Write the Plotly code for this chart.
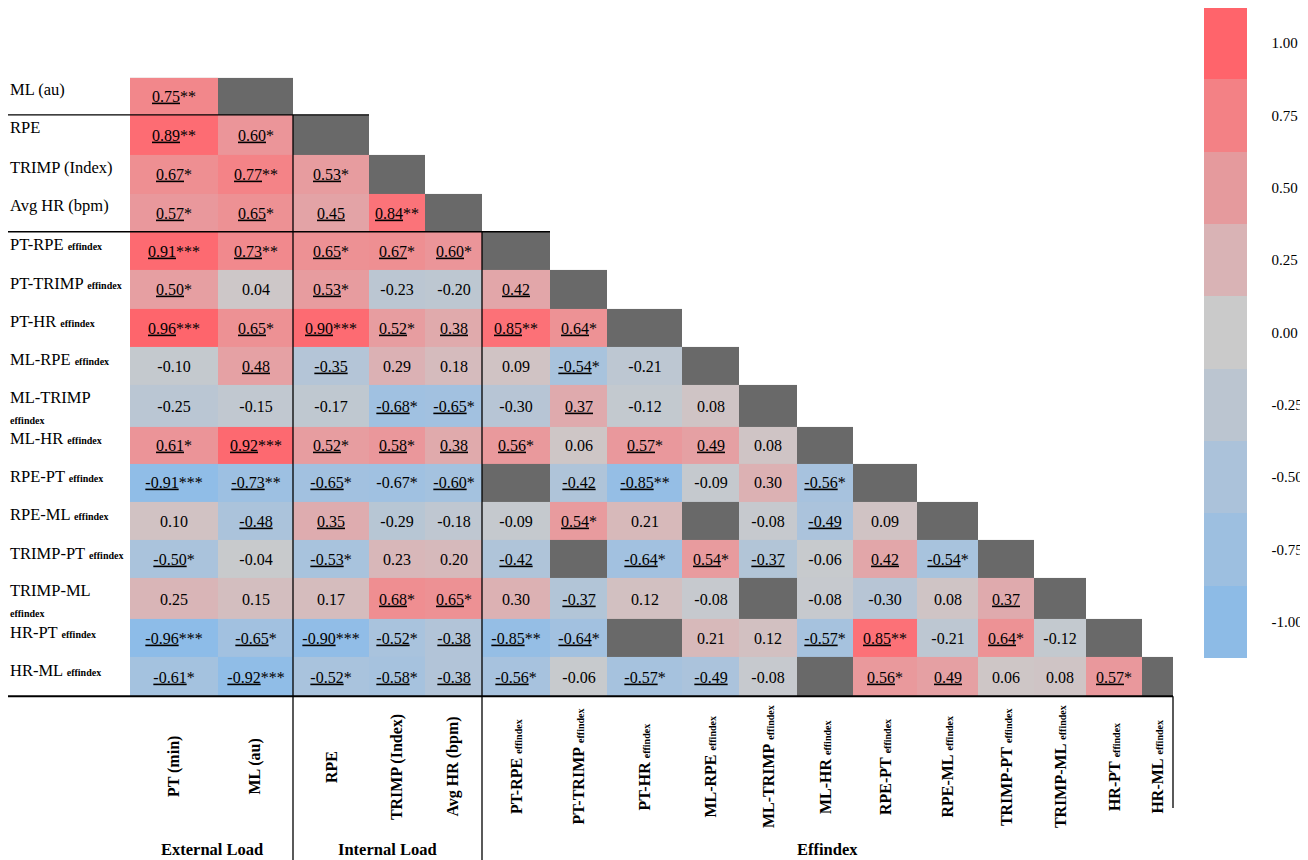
"""Correlation matrix of external load, internal load and effindex measures."""

import plotly.graph_objects as go

# Variables along the bottom axis; the rows are COLUMNS[1:]
COLUMNS = [
    'PT (min)', 'ML (au)', 'RPE', 'TRIMP (Index)', 'Avg HR (bpm)',
    'PT-RPE', 'PT-TRIMP', 'PT-HR', 'ML-RPE', 'ML-TRIMP', 'ML-HR',
    'RPE-PT', 'RPE-ML', 'TRIMP-PT', 'TRIMP-ML', 'HR-PT', 'HR-ML',
]
IS_EFFINDEX = [False] * 5 + [True] * 12
GROUPS = ['External Load', 'Internal Load', 'Effindex']
GROUP_SIZES = [2, 3, 12]

# Lower triangle, one list per row (None = not computed)
R_VALUES = [
    [0.75],
    [0.89, 0.60],
    [0.67, 0.77, 0.53],
    [0.57, 0.65, 0.45, 0.84],
    [0.91, 0.73, 0.65, 0.67, 0.60],
    [0.50, 0.04, 0.53, -0.23, -0.20, 0.42],
    [0.96, 0.65, 0.90, 0.52, 0.38, 0.85, 0.64],
    [-0.10, 0.48, -0.35, 0.29, 0.18, 0.09, -0.54, -0.21],
    [-0.25, -0.15, -0.17, -0.68, -0.65, -0.30, 0.37, -0.12, 0.08],
    [0.61, 0.92, 0.52, 0.58, 0.38, 0.56, 0.06, 0.57, 0.49, 0.08],
    [-0.91, -0.73, -0.65, -0.67, -0.60, None, -0.42, -0.85, -0.09, 0.30, -0.56],
    [0.10, -0.48, 0.35, -0.29, -0.18, -0.09, 0.54, 0.21, None, -0.08, -0.49, 0.09],
    [-0.50, -0.04, -0.53, 0.23, 0.20, -0.42, None, -0.64, 0.54, -0.37, -0.06,
     0.42, -0.54],
    [0.25, 0.15, 0.17, 0.68, 0.65, 0.30, -0.37, 0.12, -0.08, None, -0.08,
     -0.30, 0.08, 0.37],
    [-0.96, -0.65, -0.90, -0.52, -0.38, -0.85, -0.64, None, 0.21, 0.12, -0.57,
     0.85, -0.21, 0.64, -0.12],
    [-0.61, -0.92, -0.52, -0.58, -0.38, -0.56, -0.06, -0.57, -0.49, -0.08, None,
     0.56, 0.49, 0.06, 0.08, 0.57],
]

# Significance markers, same shape as R_VALUES
STARS = [
    ['**'],
    ['**', '*'],
    ['*', '**', '*'],
    ['*', '*', '', '**'],
    ['***', '**', '*', '*', '*'],
    ['*', '', '*', '', '', ''],
    ['***', '*', '***', '*', '', '**', '*'],
    ['', '', '', '', '', '', '*', ''],
    ['', '', '', '*', '*', '', '', '', ''],
    ['*', '***', '*', '*', '', '*', '', '*', '', ''],
    ['***', '**', '*', '*', '*', '', '', '**', '', '', '*'],
    ['', '', '', '', '', '', '*', '', '', '', '', ''],
    ['*', '', '*', '', '', '', '', '*', '*', '', '', '', '*'],
    ['', '', '', '*', '*', '', '', '', '', '', '', '', '', ''],
    ['***', '*', '***', '*', '', '**', '*', '', '', '', '*', '**', '', '*', ''],
    ['*', '***', '*', '*', '', '*', '', '*', '', '', '', '*', '', '', '', '*'],
]
UNDERLINE_FROM = 0.35          # |r| at or above this is underlined
NOT_UNDERLINED = [(10, 3)]     # printed without underline in the source

COLORBAR_TICKS = [1.0, 0.75, 0.5, 0.25, 0.0, -0.25, -0.5, -0.75, -1.0]

# ---- layout (pixels of the page) ----
W, H = 1308, 860
PAGE_PAD = 8                   # browser body margin around the plot div
X0, Y0 = 130, 77
COL_WIDTHS = [88, 75, 76, 56, 57, 68, 57, 75, 57, 58, 56, 64, 61, 56, 52, 56, 31]
ROW_HEIGHTS = [37, 40, 39, 38, 38, 39, 38, 38, 42, 37, 38, 39, 38, 41, 38, 39]
FONT = 'Liberation Serif'
DIAG_GRAY = '#696969'

CELL_SCALE = [
    [0.0, '#8abbe9'], [0.125, '#9cc0e3'], [0.25, '#aac3dc'],
    [0.375, '#bac6d3'], [0.5, '#cbcbcb'], [0.625, '#d9b5b7'],
    [0.75, '#e69fa2'], [0.875, '#f2878b'], [0.925, '#fc7177'],
    [1.0, '#ff6068'],
]
BAND_COLORS = ['#8dbbe6', '#9dbfe0', '#abc2da', '#bbc5d0', '#cacaca',
               '#d9b3b5', '#e59a9d', '#f38185', '#ff646b']


def cumulative(start, sizes):
    edges = [start]
    for s in sizes:
        edges.append(edges[-1] + s)
    return edges


def small(text, bold=False):
    inner = f'<b>{text}</b>' if bold else text
    return f"<span style='font-size:10px'>{inner}</span>"


col_edges = cumulative(X0, COL_WIDTHS)
row_edges = cumulative(Y0, ROW_HEIGHTS)
n_rows, n_cols = len(ROW_HEIGHTS), len(COL_WIDTHS)
fig_w, fig_h = W - PAGE_PAD, H - PAGE_PAD

# Build full grids from the triangle
z = [[None] * n_cols for _ in range(n_rows)]
mask = [[None] * n_cols for _ in range(n_rows)]
text = [[''] * n_cols for _ in range(n_rows)]
for i, (vals, stars) in enumerate(zip(R_VALUES, STARS)):
    for j in range(i + 2):
        mask[i][j] = 1
    for j, (v, s) in enumerate(zip(vals, stars)):
        if v is None:
            continue
        z[i][j] = v
        num = f'{v:.2f}'
        if abs(v) >= UNDERLINE_FROM and (i, j) not in NOT_UNDERLINED:
            num = f'<u>{num}</u>'
        text[i][j] = num + s

fig = go.Figure()

# Dark cells: diagonal and missing values
fig.add_trace(go.Heatmap(
    x=col_edges, y=row_edges, z=mask,
    colorscale=[[0, DIAG_GRAY], [1, DIAG_GRAY]],
    showscale=False, hoverinfo='skip'
))

fig.add_trace(go.Heatmap(
    x=col_edges, y=row_edges, z=z,
    text=text, texttemplate='%{text}',
    textfont=dict(family=FONT, size=16, color='black'),
    colorscale=CELL_SCALE, zmin=-1, zmax=1,
    showscale=False,
    hovertemplate='r = %{z:.2f}<extra></extra>'
))

# Stepped colour key on the right
n_bands = len(BAND_COLORS)
band_scale = []
for k, c in enumerate(BAND_COLORS):
    band_scale += [[k / n_bands, c], [(k + 1) / n_bands, c]]
half = 0.125
fig.add_trace(go.Scatter(
    x=[None], y=[None], mode='markers', showlegend=False, hoverinfo='skip',
    marker=dict(
        color=[0], colorscale=band_scale,
        cmin=min(COLORBAR_TICKS) - half, cmax=max(COLORBAR_TICKS) + half,
        showscale=True,
        colorbar=dict(
            x=(1204 - PAGE_PAD) / fig_w, xanchor='left',
            y=1 - (7 - PAGE_PAD) / fig_h, yanchor='top',
            len=651 / fig_h, lenmode='fraction',
            thickness=43, thicknessmode='pixels',
            outlinewidth=0, xpad=0, ypad=0,
            tickvals=COLORBAR_TICKS,
            ticktext=[f'{t:.2f}' for t in COLORBAR_TICKS],
            ticks='outside', ticklen=22, tickcolor='rgba(0,0,0,0)',
            tickfont=dict(family=FONT, size=15, color='black'),
        ),
    ),
))

# Row labels
for i, name in enumerate(COLUMNS[1:]):
    centre = (row_edges[i] + row_edges[i + 1]) / 2
    if IS_EFFINDEX[i + 1]:
        if name in ('ML-TRIMP', 'TRIMP-ML'):
            label = name + '<br>' + small('effindex', bold=True)
            ypos = centre + 1
        else:
            label = name + ' ' + small('effindex', bold=True)
            ypos = centre - 6
    else:
        label = name
        ypos = centre - 7
    fig.add_annotation(
        x=PAGE_PAD, y=ypos, xref='x', yref='y', text=label, showarrow=False,
        xanchor='left', yanchor='middle', align='left',
        font=dict(family=FONT, size=16.5, color='black')
    )

# Column labels, rotated
for j, name in enumerate(COLUMNS):
    centre = (col_edges[j] + col_edges[j + 1]) / 2
    label = f'<b>{name}</b>'
    if IS_EFFINDEX[j]:
        label += ' ' + small('effindex', bold=True)
    fig.add_annotation(
        x=centre, y=767, xref='x', yref='y', text=label, showarrow=False,
        textangle=-90, xanchor='center', yanchor='middle',
        font=dict(family=FONT, size=16, color='black')
    )

# Group labels and separators
start = 0
line = dict(color='black', width=1.3)
for g, size in zip(GROUPS, GROUP_SIZES):
    fig.add_annotation(
        x=(col_edges[start] + col_edges[start + size]) / 2, y=849,
        xref='x', yref='y', text=f'<b>{g}</b>', showarrow=False,
        font=dict(family=FONT, size=16.5, color='black')
    )
    start += size
    if start < n_cols:
        r = start - 1
        fig.add_shape(type='line', x0=0, x1=col_edges[start + 1],
                      y0=row_edges[r], y1=row_edges[r], line=line)
        fig.add_shape(type='line', x0=col_edges[start], x1=col_edges[start],
                      y0=row_edges[r], y1=H, line=line)

fig.add_shape(type='line', x0=0, x1=col_edges[-1], y0=row_edges[-1],
              y1=row_edges[-1], line=dict(color='black', width=2))
fig.add_shape(type='line', x0=col_edges[-1], x1=col_edges[-1],
              y0=row_edges[-1], y1=808, line=line)

fig.update_layout(
    width=fig_w, height=fig_h,
    margin=dict(l=0, r=0, t=0, b=0),
    paper_bgcolor='white', plot_bgcolor='white',
    font=dict(family=FONT, color='black'),
    xaxis=dict(range=[PAGE_PAD, W], visible=False, fixedrange=True),
    yaxis=dict(range=[H, PAGE_PAD], visible=False, fixedrange=True),
    showlegend=False
)

fig.write_html("out.html")
